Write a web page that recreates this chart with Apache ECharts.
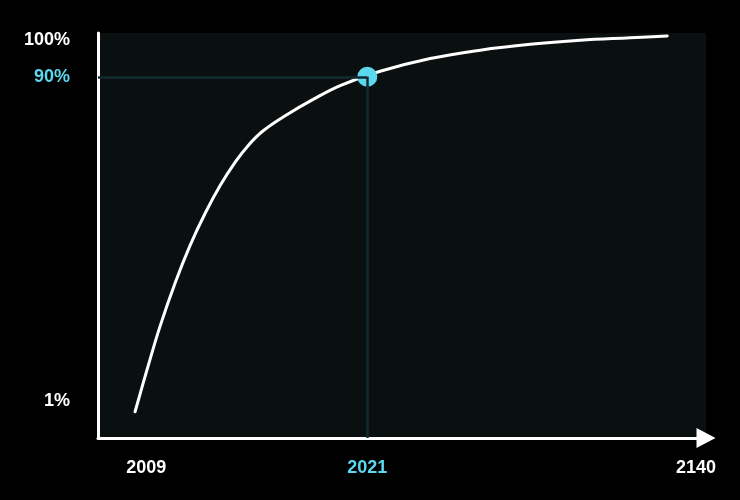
<!DOCTYPE html>
<html>
<head>
<meta charset="utf-8">
<script src="https://cdn.jsdelivr.net/npm/echarts@6/dist/echarts.min.js"></script>
<style>
  html, body { margin: 0; padding: 0; background: #000; }
  #chart { width: 740px; height: 500px; }
</style>
</head>
<body>
<div id="chart"></div>
<script>
// Share of all bitcoin that will ever exist
const years = [2008.74, 2009.02, 2009.35, 2009.77, 2010.23, 2010.74, 2011.30, 2011.92, 2012.51, 2013.25,
  2014.58, 2016.32, 2018.45, 2022.38, 2028.99, 2038.15, 2050.84, 2068.45, 2092.89, 2116.8];
const supplyPct = [-1.8, 9.7, 21.6, 33.5, 43.8, 52.6, 60.2, 66.6, 71.2, 75.2,
  79.6, 83.8, 87.6, 91.5, 95.0, 97.3, 98.9, 100.0, 100.7, 101.2];

const highlightYear = 2021;
const highlightPct = 90;

const xTickYears = [2009, 2021, 2140];
const yTickPcts = [1, 90, 100];

// the reference squeezes time: x is a log axis of (year - yearOrigin)
const yearOrigin = 2005.3;
const xMinYear = 2008;
const xMaxYear = 2149;
const yMin = -9;
const yMax = 102;

const WHITE = "#ffffff";
const CYAN = "#5cd8ee";
const FONT = "'Liberation Sans', Arial, sans-serif";

const toX = (year) => year - yearOrigin;

const labelRich = { hi: { color: CYAN, fontFamily: FONT, fontSize: 18, fontWeight: "bold" } };

const chart = echarts.init(document.getElementById("chart"));

chart.setOption({
  backgroundColor: "#000000",
  animation: false,
  grid: {
    left: 98, right: 34, top: 33, bottom: 62,
    show: true, backgroundColor: "#0a1010", borderWidth: 0,
  },
  xAxis: {
    type: "log",
    logBase: 10,
    min: toX(xMinYear),
    max: toX(xMaxYear),
    axisLine: {
      show: true,
      onZero: false,
      lineStyle: { color: WHITE, width: 3 },
      symbol: ["none", "triangle"],
      symbolSize: [20, 19],
    },
    axisTick: { show: false },
    splitLine: { show: false },
    axisLabel: {
      customValues: xTickYears.map(toX),
      formatter: (v) => {
        const yr = Math.round(v + yearOrigin);
        return yr === highlightYear ? "{hi|" + yr + "}" : String(yr);
      },
      margin: 21,
      color: WHITE,
      fontFamily: FONT,
      fontSize: 18,
      fontWeight: "bold",
      rich: labelRich,
    },
  },
  yAxis: {
    type: "value",
    min: yMin,
    max: yMax,
    axisLine: { show: true, onZero: false, lineStyle: { color: WHITE, width: 3 } },
    axisTick: { show: false },
    splitLine: { show: false },
    axisLabel: {
      customValues: yTickPcts,
      formatter: (v) => (v === highlightPct ? "{hi|" + v + "%}" : v + "%"),
      margin: 28,
      color: WHITE,
      fontFamily: FONT,
      fontSize: 18,
      fontWeight: "bold",
      rich: labelRich,
    },
  },
  series: [
    {
      type: "line",
      data: years.map((y, i) => [toX(y), supplyPct[i]]),
      smooth: 0.4,
      showSymbol: false,
      lineStyle: { color: WHITE, width: 3, cap: "round" },
      z: 3,
      markLine: {
        silent: true,
        symbol: "none",
        label: { show: false },
        lineStyle: { color: "#122b30", width: 2.5, type: "solid" },
        data: [
          [{ coord: [toX(xMinYear), highlightPct] }, { coord: [toX(highlightYear), highlightPct] }],
          [{ coord: [toX(highlightYear), highlightPct] }, { coord: [toX(highlightYear), yMin] }],
        ],
      },
    },
    {
      type: "scatter",
      data: [[toX(highlightYear), highlightPct]],
      symbolSize: 20,
      itemStyle: { color: CYAN, opacity: 1 },
      z: 4,
    },
  ],
});
</script>
</body>
</html>
